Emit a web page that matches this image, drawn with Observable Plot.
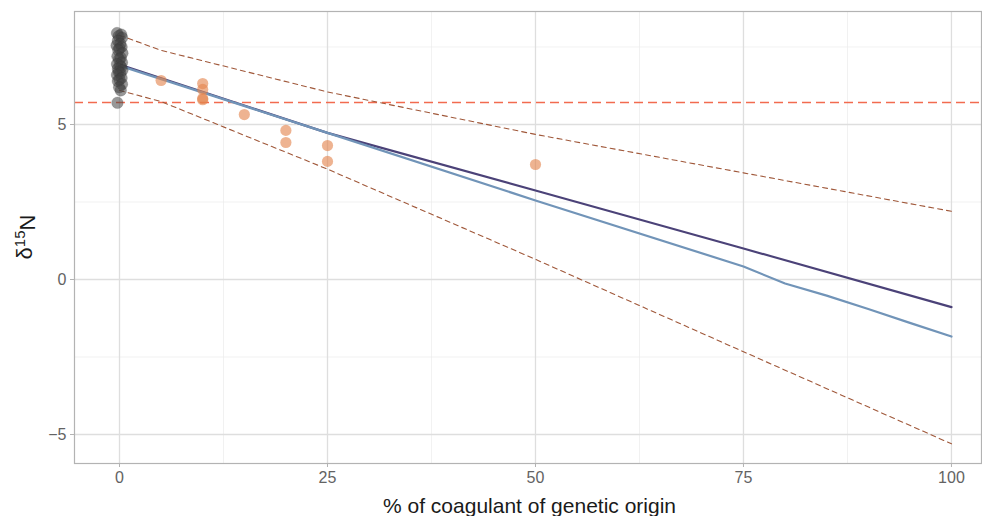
<!DOCTYPE html>
<html>
<head>
<meta charset="utf-8">
<script src="https://cdn.jsdelivr.net/npm/d3@7"></script>
<script src="https://cdn.jsdelivr.net/npm/@observablehq/plot@0.6"></script>
<style>
  html, body { margin: 0; padding: 0; background: #fff; }
  #chart { width: 982px; height: 516px; }
</style>
</head>
<body>
<div id="chart"></div>
<script>
// Reference (gray) samples at 0 % (jittered horizontally)
const grayX = [-0.3, 0.2, -0.1, 0.3, -0.2, 0.1, -0.35, 0.25, 0.0, -0.15, 0.35, -0.25, 0.15, -0.05, 0.3, -0.3, 0.05, 0.2, -0.2, 0.35, -0.1, 0.1, -0.3, 0.25, 0.0, -0.2, 0.3, -0.05, 0.15, -0.25];
const grayY = [7.95, 7.9, 7.85, 7.8, 7.7, 7.6, 7.55, 7.5, 7.45, 7.4, 7.3, 7.2, 7.15, 7.1, 7.0, 6.95, 6.9, 6.85, 6.8, 6.75, 6.7, 6.65, 6.6, 6.5, 6.45, 6.4, 6.3, 6.2, 6.1, 5.7];

// Mixture samples (orange)
const mixX = [5, 10, 10, 10, 10, 15, 20, 20, 25, 25, 50];
const mixY = [6.42, 6.32, 6.13, 5.84, 5.80, 5.32, 4.81, 4.42, 4.32, 3.81, 3.71];

// Fitted lines
const darkX = [0, 25, 50, 75, 100];
const darkY = [6.93, 4.73, 2.87, 1.0, -0.89];
const blueX = [0, 25, 50, 75, 80, 85, 90, 95, 100];
const blueY = [6.90, 4.73, 2.55, 0.42, -0.13, -0.52, -0.95, -1.40, -1.84];
const upperX = [0, 5, 25, 50, 75, 100];
const upperY = [7.88, 7.39, 6.05, 4.68, 3.44, 2.20];
const lowerX = [0, 5, 25, 50, 75, 100];
const lowerY = [6.10, 5.74, 3.56, 0.65, -2.33, -5.30];
const threshold = [5.71];

// Ticks and grid
const xTicks = [0, 25, 50, 75, 100];
const xMinor = [12.5, 37.5, 62.5, 87.5];
const yTicks = [-5, 0, 5];
const yMinor = [-2.5, 2.5, 7.5];

const toPts = (xs, ys) => xs.map((x, i) => ({x, y: ys[i]}));
const gray = toPts(grayX, grayY);
const mix = toPts(mixX, mixY);
const dark = toPts(darkX, darkY);
const blue = toPts(blueX, blueY);
const upper = toPts(upperX, upperY);
const lower = toPts(lowerX, lowerY);

const W = 982, H = 516;
const mL = 74, mR = 1, mT = 11, mB = 53;

const chart = Plot.plot({
  width: W, height: H,
  marginLeft: mL, marginRight: mR, marginTop: mT, marginBottom: mB,
  style: {fontFamily: "'Liberation Sans', Arial, sans-serif", background: "#fff"},
  x: {domain: [-5.41, 103.61]},
  y: {domain: [-5.935, 8.645]},
  marks: [
    Plot.ruleX(xMinor, {stroke: "#ebebeb", strokeWidth: 0.7}),
    Plot.ruleY(yMinor, {stroke: "#ebebeb", strokeWidth: 0.7}),
    Plot.ruleX(xTicks, {stroke: "#dedede", strokeWidth: 1.3}),
    Plot.ruleY(yTicks, {stroke: "#dedede", strokeWidth: 1.3}),
    Plot.ruleY(threshold, {stroke: "#f26b4f", strokeWidth: 1.5, strokeDasharray: "9,5"}),
    Plot.line(upper, {x: "x", y: "y", stroke: "#a0583a", strokeWidth: 1.1, strokeDasharray: "5,4"}),
    Plot.line(lower, {x: "x", y: "y", stroke: "#a0583a", strokeWidth: 1.1, strokeDasharray: "5,4"}),
    Plot.line(dark, {x: "x", y: "y", stroke: "#4b4278", strokeWidth: 2.2}),
    Plot.line(blue, {x: "x", y: "y", stroke: "#7194b8", strokeWidth: 2.2}),
    Plot.dot(gray, {x: "x", y: "y", r: 5.8, fill: "#444", fillOpacity: 0.55, stroke: "#333", strokeOpacity: 0.3, strokeWidth: 0.6}),
    Plot.dot(mix, {x: "x", y: "y", r: 5.6, fill: "#e3844e", fillOpacity: 0.62}),
    Plot.frame({stroke: "#b3b3b3", strokeWidth: 1.2}),
    Plot.axisX({ticks: xTicks, tickSize: 4, tickPadding: 4, stroke: "#b3b3b3", fill: "#636363", fontSize: 16, label: null, tickFormat: d => d3.format("d")(d)}),
    Plot.axisY({ticks: yTicks, tickSize: 4, tickPadding: 4, stroke: "#b3b3b3", fill: "#636363", fontSize: 16, label: null, tickFormat: d => (d < 0 ? "\u2212" + Math.abs(d) : String(d))})
  ]
});

document.getElementById("chart").appendChild(chart);

// Axis titles
const svg = d3.select(chart);
const panelCx = (mL + (W - mR)) / 2;
const panelCy = (mT + (H - mB)) / 2;
svg.append("text")
  .attr("x", panelCx + 2).attr("y", 513)
  .attr("text-anchor", "middle")
  .style("font-family", "'Liberation Sans', Arial, sans-serif")
  .style("font-size", "21px").attr("fill", "#1a1a1a")
  .text("% of coagulant of genetic origin");
const yt = svg.append("text")
  .attr("transform", `translate(32,${panelCy}) rotate(-90)`)
  .attr("text-anchor", "middle")
  .style("font-family", "'Liberation Sans', Arial, sans-serif")
  .style("font-size", "22px").attr("fill", "#1a1a1a");
yt.append("tspan").text("\u03b4");
yt.append("tspan").attr("dy", "-0.45em").style("font-size", "15px").text("15");
yt.append("tspan").attr("dy", "0.45em").text("N");
</script>
</body>
</html>
